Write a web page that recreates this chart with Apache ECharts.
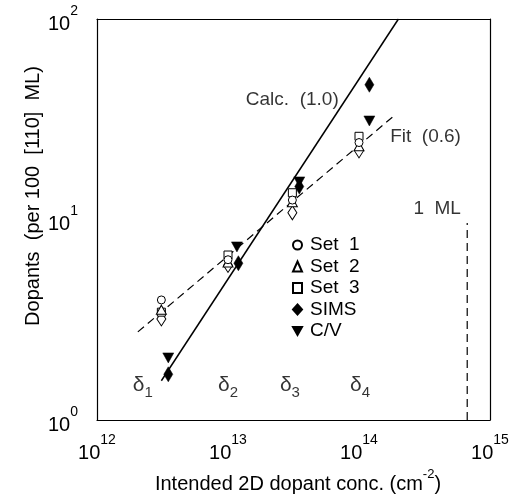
<!DOCTYPE html>
<html>
<head>
<meta charset="utf-8">
<script src="https://cdn.jsdelivr.net/npm/echarts@6/dist/echarts.min.js"></script>
<style>
html, body { margin: 0; padding: 0; background: #fff; }
#wrap { position: relative; width: 517px; height: 497px; }
#chart, #ticks { position: absolute; left: 0; top: 0; width: 517px; height: 497px; }
#ticks { pointer-events: none; }
</style>
</head>
<body>
<div id="wrap">
  <div id="chart"></div>
  <div id="ticks"></div>
</div>
<script>
// values (log-log)
const openX = [3.1e12, 1.0e13, 3.1e13, 1.0e14];
const set1 = [3.97, 6.3, 12.5, 24.2];
const set2 = [3.55, 6.1, 12.2, 23.2];
const set3 = [3.45, 6.65, 13.6, 26.0];
const openDiamond = [3.19, 5.9, 10.8, 22.0];
const simsX = [3.5e12, 1.2e13, 3.5e13, 1.2e14];
const sims = [1.69, 6.05, 14.6, 47];
const cvX = [3.5e12, 1.17e13, 3.5e13, 1.2e14];
const cv = [2.04, 7.3, 15.4, 31];
const calcX = [3.1e12, 2.0e14];
const calcY = [1.57, 100];
const fitX = [2.05e12, 1.88e14];
const fitY = [2.75, 33.2];
const mlX = [6.7e14, 6.7e14];
const mlY = [1, 9.6];
const deltaNames = ['1', '2', '3', '4'];
const deltaX = [2.24e12, 1.0e13, 2.97e13, 1.02e14];
const deltaY = 1.45;
const xRange = [1e12, 1e15];
const yRange = [1, 100];

const FONT = 'Liberation Sans';
const GRID = { left: 97, right: 27, top: 19, bottom: 77 };

function pairs(xs, ys) {
  return xs.map((x, i) => [x, ys[i]]);
}

function powLabel(v) {
  return '{b|10}{s|' + Math.round(Math.log10(v)) + '}';
}

const powRich = {
  b: { fontSize: 20, fontFamily: FONT, color: '#000', verticalAlign: 'bottom', padding: [10, 0, 0, 0] },
  s: { fontSize: 14, fontFamily: FONT, color: '#000', verticalAlign: 'top' }
};

// frame + labels (drawn with the data)
function axis(pos, range, showLabel, margin) {
  return {
    type: 'log',
    logBase: 10,
    position: pos,
    min: range[0],
    max: range[1],
    axisLine: { show: true, lineStyle: { color: '#000', width: 1.2 } },
    axisTick: { show: false },
    minorTick: { show: false },
    splitLine: { show: false },
    minorSplitLine: { show: false },
    axisLabel: {
      show: showLabel,
      margin: margin,
      formatter: powLabel,
      rich: powRich
    }
  };
}

// ticks only (drawn on a transparent layer on top, same grid and scales)
function tickAxis(pos, range, major, minor) {
  return {
    type: 'log',
    logBase: 10,
    position: pos,
    min: range[0],
    max: range[1],
    axisLine: { show: false },
    axisTick: { show: true, inside: true, length: major, lineStyle: { color: '#000', width: 1 } },
    minorTick: { show: true, splitNumber: 9, length: minor, lineStyle: { color: '#000', width: 1 } },
    splitLine: { show: false },
    minorSplitLine: { show: false },
    axisLabel: { show: false }
  };
}

function marker(name, xs, ys, symbol, size, filled) {
  return {
    name: name,
    type: 'scatter',
    data: pairs(xs, ys),
    symbol: symbol,
    symbolSize: size,
    itemStyle: filled
      ? { color: '#000', borderColor: '#000', borderWidth: 0.5, opacity: 1 }
      : { color: '#fff', borderColor: '#000', borderWidth: 1, opacity: 1 },
    z: 5
  };
}

const noteLabel = { fontSize: 19, fontFamily: FONT, color: '#000' };

const chart = echarts.init(document.getElementById('chart'));
chart.setOption({
  animation: false,
  grid: GRID,
  xAxis: [
    axis('bottom', xRange, true, 13),
    axis('top', xRange, false, 0)
  ],
  yAxis: [
    axis('left', yRange, true, 19),
    axis('right', yRange, false, 0)
  ],
  legend: {
    orient: 'vertical',
    left: 287,
    top: 230,
    itemWidth: 9,
    itemHeight: 10,
    itemGap: 1.5,
    data: ['Set  1', 'Set  2', 'Set  3', 'SIMS', 'C/V'],
    textStyle: { fontSize: 19, fontFamily: FONT, color: '#000', lineHeight: 20, padding: [0, 0, 0, 3] }
  },
  graphic: [
    {
      type: 'text',
      x: 33,
      y: 196,
      rotation: Math.PI / 2,
      style: {
        text: 'Dopants  (per 100  [110]  ML)',
        font: '20px "Liberation Sans"',
        fill: '#000',
        textAlign: 'center',
        textVerticalAlign: 'middle'
      }
    },
    {
      type: 'text',
      x: 298,
      y: 481,
      style: {
        text: '{t|Intended 2D dopant conc. (cm}{s|-2}{t|)}',
        rich: {
          t: { fontSize: 20, fontFamily: FONT, fill: '#000', verticalAlign: 'bottom', padding: [7, 0, 0, 0] },
          s: { fontSize: 13, fontFamily: FONT, fill: '#000', verticalAlign: 'top' }
        },
        fill: '#000',
        textAlign: 'center',
        textVerticalAlign: 'middle'
      }
    }
  ],
  series: [
    {
      name: 'Calc',
      type: 'line',
      data: pairs(calcX, calcY),
      symbol: 'none',
      lineStyle: { color: '#000', width: 1.5 },
      silent: true,
      z: 2
    },
    {
      name: 'Fit',
      type: 'line',
      data: pairs(fitX, fitY),
      symbol: 'none',
      lineStyle: { color: '#000', width: 1.2, type: [8, 5] },
      silent: true,
      z: 2
    },
    {
      name: '1 ML',
      type: 'line',
      data: pairs(mlX, mlY),
      symbol: 'none',
      lineStyle: { color: '#000', width: 1.2, type: [8, 5] },
      silent: true,
      z: 2
    },
    marker('open diamond', openX, openDiamond, 'diamond', [9, 14], false),
    marker('Set  3', openX, set3, 'rect', 8, false),
    marker('Set  2', openX, set2, 'triangle', [10, 9], false),
    marker('Set  1', openX, set1, 'circle', 8, false),
    marker('SIMS', simsX, sims, 'diamond', [9, 15], true),
    marker('C/V', cvX, cv, 'path://M0,0L10,0L5,9Z', [11, 10], true),
    {
      name: 'notes',
      type: 'scatter',
      symbolSize: 0,
      silent: true,
      z: 6,
      label: { show: true, distance: 0, color: '#000', fontSize: 19, fontFamily: FONT },
      data: [
        { value: [7.0e13, 39.4], label: Object.assign({ show: true, position: 'left', formatter: 'Calc.  (1.0)' }, noteLabel) },
        { value: [1.73e14, 25.8], label: Object.assign({ show: true, position: 'right', formatter: 'Fit  (0.6)' }, noteLabel) },
        { value: [6.0e14, 11.3], label: Object.assign({ show: true, position: 'left', formatter: '1  ML' }, noteLabel) }
      ].concat(deltaX.map((x, i) => ({
        value: [x, deltaY],
        label: {
          show: true,
          position: 'inside',
          formatter: '{d|\u03b4}{s|' + deltaNames[i] + '}',
          rich: {
            d: { fontSize: 21, fontFamily: FONT, color: '#000', verticalAlign: 'top', padding: [0, 0, 5, 0] },
            s: { fontSize: 15, fontFamily: FONT, color: '#000', verticalAlign: 'bottom' }
          }
        }
      })))
    }
  ]
});

const ticks = echarts.init(document.getElementById('ticks'));
ticks.setOption({
  animation: false,
  grid: GRID,
  xAxis: [
    tickAxis('bottom', xRange, 12, 7),
    tickAxis('top', xRange, 12, 7)
  ],
  yAxis: [
    tickAxis('left', yRange, 15, 9),
    tickAxis('right', yRange, 15, 9)
  ],
  series: [{
    type: 'scatter',
    data: pairs(openX, set1),
    symbolSize: 0,
    silent: true
  }]
});
</script>
</body>
</html>
